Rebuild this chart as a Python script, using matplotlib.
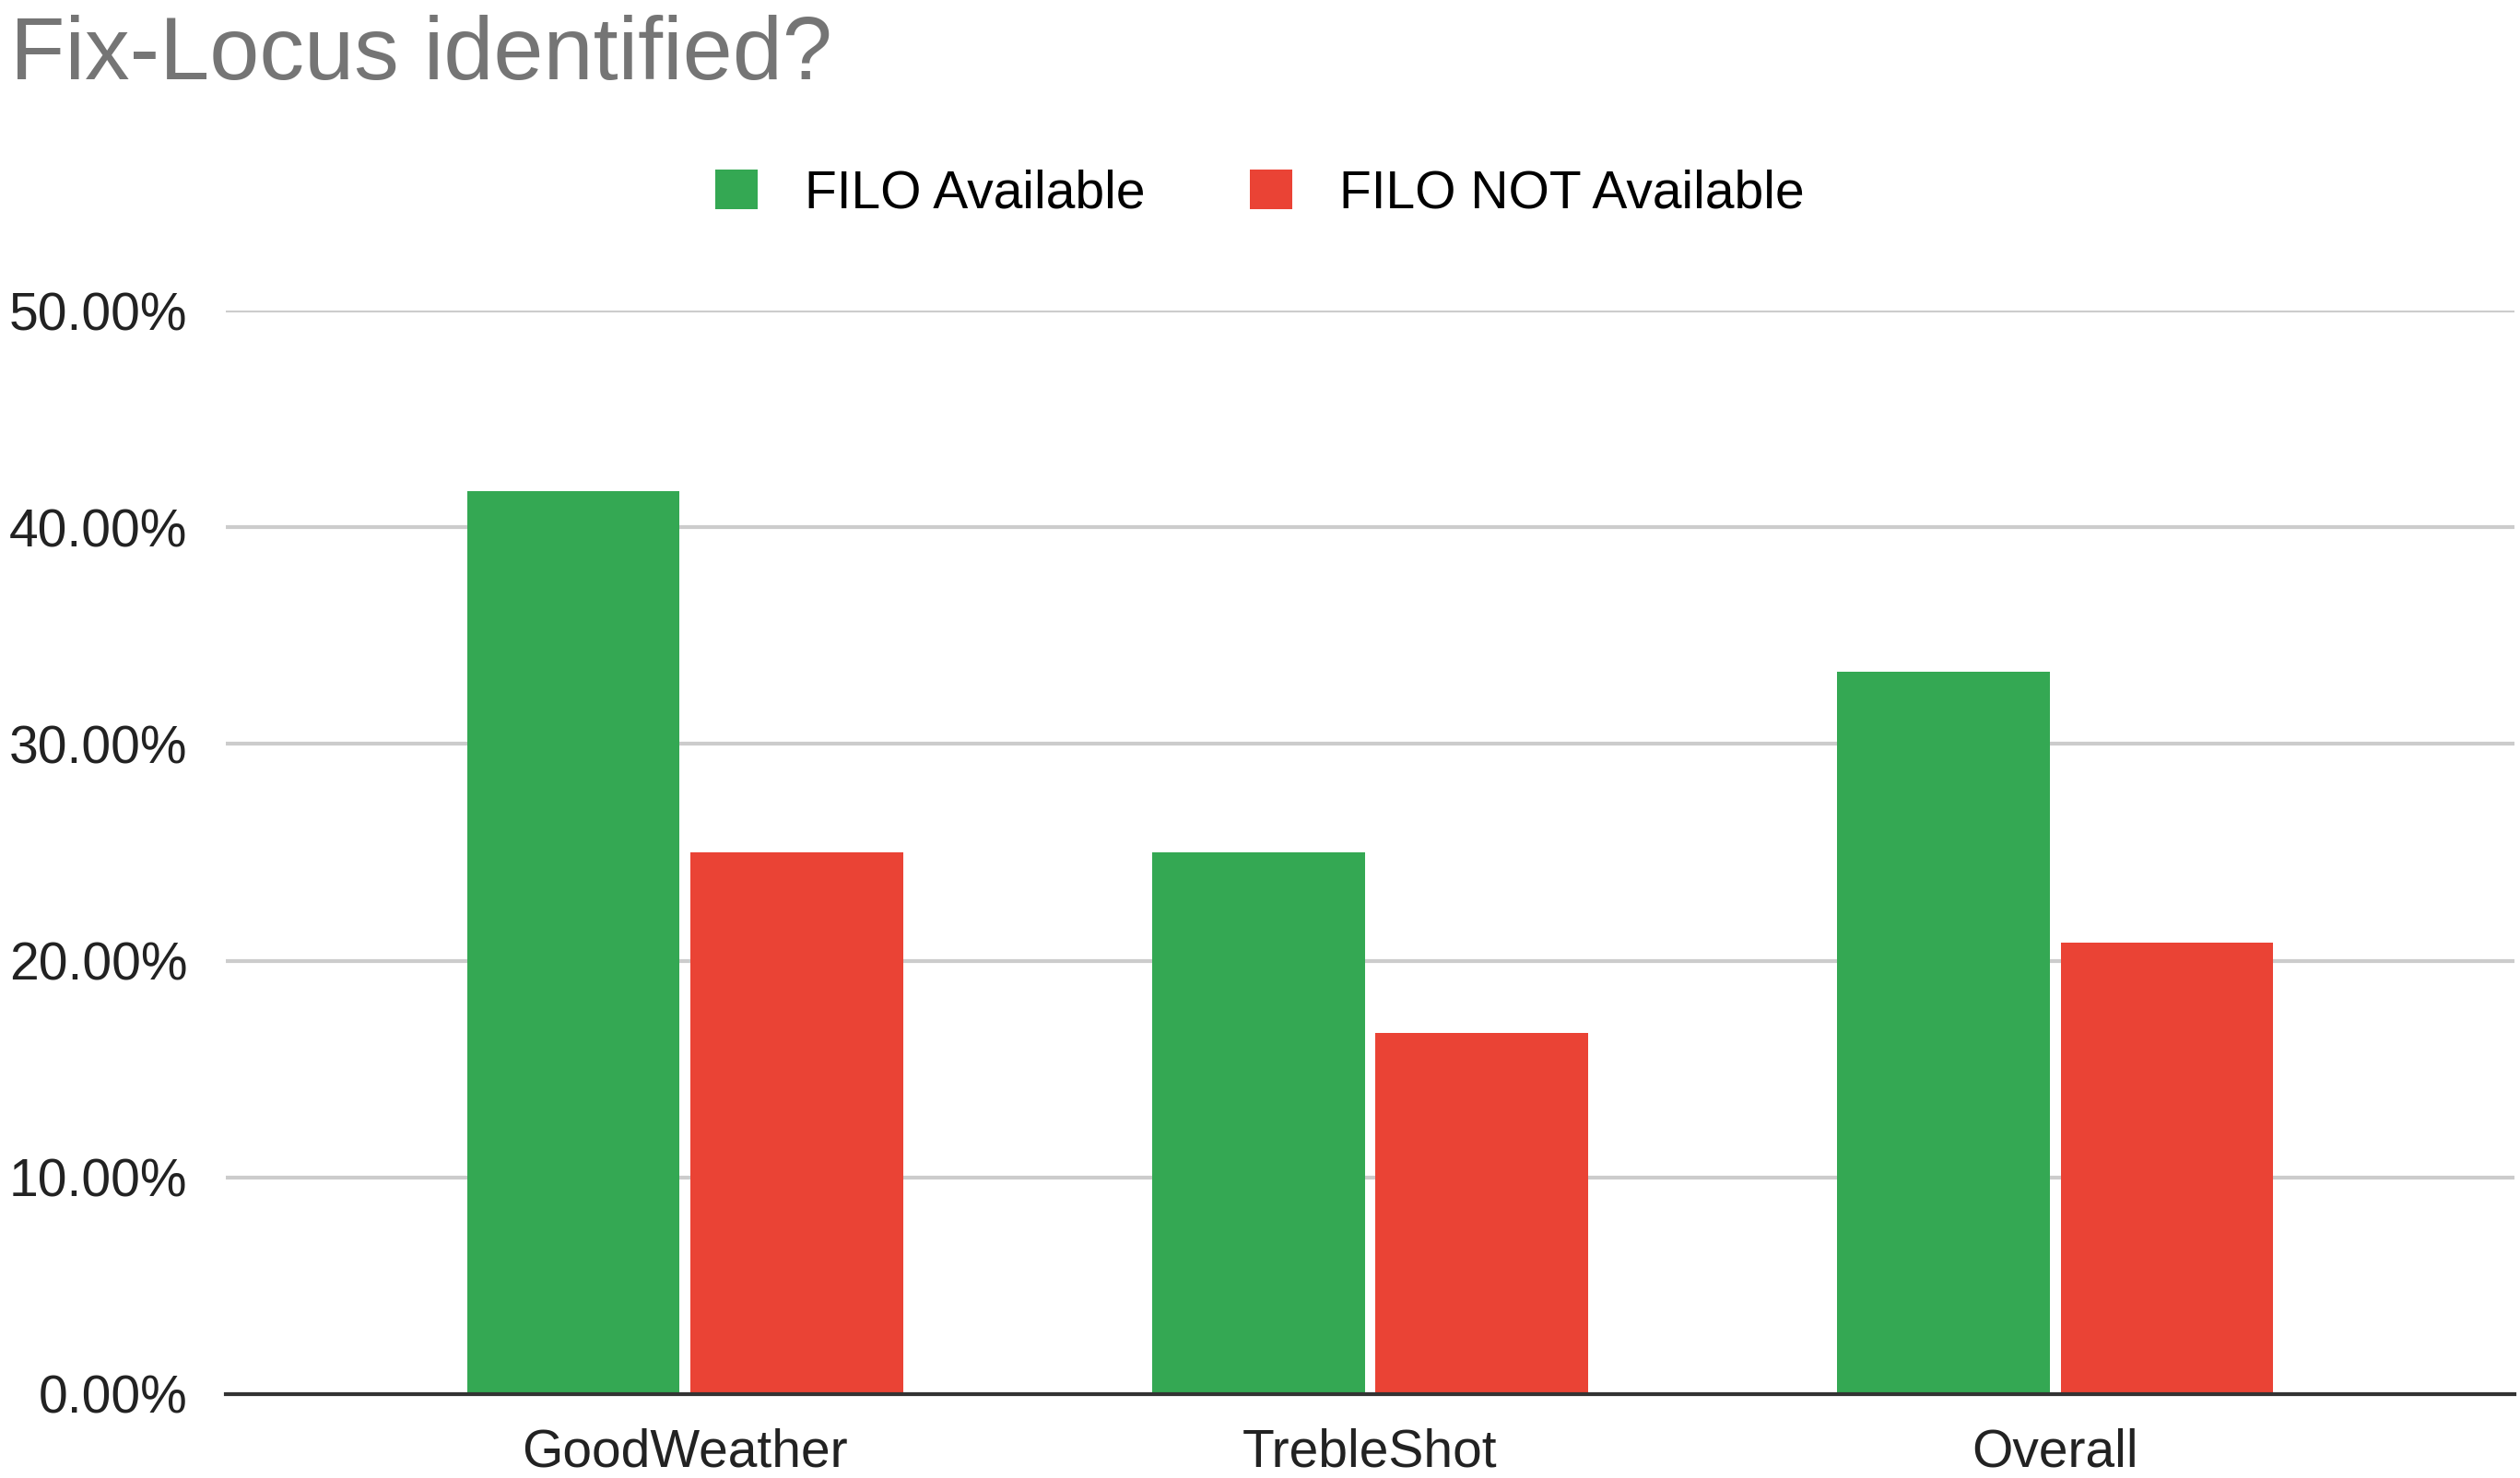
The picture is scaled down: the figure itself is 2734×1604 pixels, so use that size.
import matplotlib.pyplot as plt
import numpy as np
from matplotlib.ticker import FuncFormatter

plt.rcParams['font.family'] = ['Liberation Sans', 'DejaVu Sans']

categories = ['GoodWeather', 'TrebleShot', 'Overall']
filo_available = [41.67, 25.0, 33.33]
filo_not_available = [25.0, 16.67, 20.83]

fig = plt.figure(figsize=(27.34, 16.04), dpi=100)
ax = fig.add_axes([0.0897, 0.0568, 0.908, 0.733])

x = np.arange(len(categories))
w = 0.31
gap = 0.008
ax.bar(x - w / 2 - gap, filo_available, w, color='#34a853', label='FILO Available', zorder=3)
ax.bar(x + w / 2 + gap, filo_not_available, w, color='#ea4335', label='FILO NOT Available', zorder=3)

ax.set_xlim(-0.67, 2.67)
ax.set_ylim(0, 50)
ax.set_yticks(np.arange(0, 51, 10))
ax.yaxis.set_major_formatter(FuncFormatter(lambda v, p: f'{v:.2f}%'))
ax.set_xticks(x)
ax.set_xticklabels(categories)
ax.tick_params(axis='both', length=0, labelsize=41, colors='#222222')
ax.tick_params(axis='x', pad=26)
ax.tick_params(axis='y', pad=30)
ax.grid(axis='y', color='#cccccc', linewidth=3, zorder=0)
for s in ['top', 'right', 'left']:
    ax.spines[s].set_visible(False)
ax.spines['bottom'].set_color('#333333')
ax.spines['bottom'].set_linewidth(3)
ax.spines['bottom'].set_zorder(4)

fig.text(0.004, 0.962, 'Fix-Locus identified?', fontsize=70, color='#757575', va='center')
fig.legend(loc='center', bbox_to_anchor=(0.5, 0.869), ncol=2, frameon=False,
           fontsize=41, handlelength=0.8, handleheight=0.8, columnspacing=2.0, handletextpad=0.9)

fig.savefig('out.png', dpi=100)
